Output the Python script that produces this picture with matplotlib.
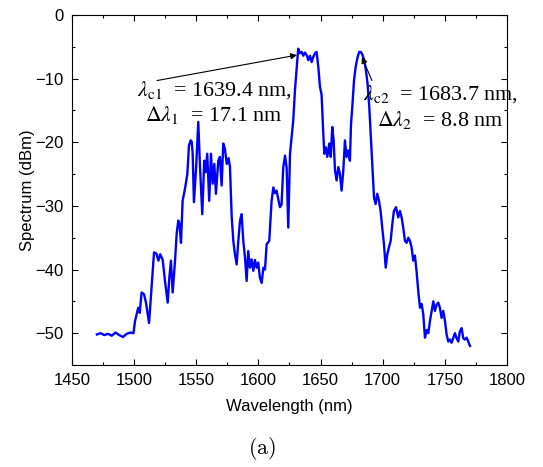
import matplotlib
matplotlib.use("Agg")
import matplotlib.pyplot as plt
from matplotlib.ticker import MultipleLocator

wavelength = [
    1470, 1473, 1476, 1479, 1482, 1485, 1488, 1491, 1494, 1497,
    1499.5, 1500.7, 1503.3, 1504.5, 1506, 1508, 1509.5, 1512, 1514, 1516,
    1518, 1519.5, 1521, 1523, 1524.8, 1527, 1528.3, 1529.6, 1531, 1532.9,
    1534.2, 1535.5, 1536.5, 1537.7, 1539, 1540.9, 1542.8, 1544.1, 1545.5, 1546.3,
    1547.1, 1548.1, 1549.8, 1551.6, 1553, 1554.8, 1556.4, 1557.5, 1558.8, 1560.4,
    1561.8, 1563.2, 1564.5, 1565.8, 1567.7, 1569, 1570.4, 1571.7, 1573, 1574.5,
    1576, 1577.1, 1578.5, 1579.8, 1581.1, 1582.5, 1583.8, 1585.2, 1586.5, 1587.8,
    1589.2, 1590.5, 1591.8, 1593.2, 1594.5, 1595.9, 1597.2, 1598.5, 1599.8, 1601.2,
    1602.6, 1604, 1605.3, 1606.6, 1608.7, 1610.6, 1612, 1613.3, 1614.6, 1616,
    1617.3, 1618.6, 1620, 1621.4, 1622.7, 1624, 1625.4, 1626.7, 1628, 1629.4,
    1630.8, 1632, 1633.4, 1634.8, 1636.1, 1637.4, 1638.8, 1640.1, 1641.5, 1642.8,
    1644.1, 1645.5, 1646.8, 1648.2, 1649.5, 1650.8, 1652.2, 1653, 1654.2, 1655.4,
    1657, 1658.2, 1659.4, 1660.5, 1661.6, 1662.9, 1664.3, 1665.6, 1666.9, 1668.3,
    1669.6, 1670.9, 1672.2, 1673.6, 1674.5, 1675.5, 1676.9, 1678.2, 1679.8, 1681.1,
    1682.4, 1683.8, 1685.1, 1686.5, 1687.8, 1689.2, 1690.3, 1691.6, 1693, 1694.3,
    1695.6, 1697, 1698.3, 1699.6, 1701, 1702.4, 1703.7, 1705, 1706.4, 1707.7,
    1709, 1710.7, 1712.5, 1713.9, 1715.2, 1716.5, 1717.9, 1719.2, 1720.6, 1721.9,
    1723.2, 1724.6, 1725.9, 1727.2, 1728.6, 1730, 1731.3, 1732.6, 1734, 1735.4,
    1736.7, 1738, 1739.4, 1740.7, 1742, 1743.4, 1744.7, 1746, 1747.4, 1748.7,
    1750.1, 1751.4, 1752.7, 1754, 1755.4, 1756.7, 1758.1, 1759.4, 1760.8, 1762.1,
    1763.5, 1764.8, 1766.1, 1767.5, 1768.8, 1770.2,
]

spectrum = [
    -50.2, -50.0, -50.3, -50.1, -50.4, -49.9, -50.3, -50.6, -50.1, -49.9,
    -50.0, -48.1, -46.0, -46.8, -43.6, -43.9, -45.2, -48.4, -42.8, -37.3,
    -37.5, -38.6, -37.6, -38.5, -41.8, -45.2, -41.3, -38.6, -43.6, -38.6,
    -34.4, -32.3, -32.8, -35.8, -29.2, -27.3, -25.0, -20.5, -19.7, -19.9,
    -21.8, -29.4, -24.2, -16.8, -23.9, -31.3, -22.9, -24.7, -21.8, -29.2,
    -21.8, -26.5, -23.4, -28.1, -22.9, -22.3, -26.8, -20.2, -21.0, -23.4,
    -22.5, -23.9, -31.8, -35.5, -37.6, -39.2, -35.5, -32.3, -31.3, -35.5,
    -38.1, -41.8, -37.1, -39.7, -38.4, -40.2, -38.5, -39.7, -38.9, -41.3,
    -42.1, -39.7, -40.0, -36.0, -35.5, -29.2, -27.1, -28.0, -27.6, -29.0,
    -30.2, -29.8, -23.9, -22.1, -24.0, -33.4, -21.8, -19.2, -16.6, -11.8,
    -8.2, -5.3, -6.0, -5.8, -6.4, -5.9, -6.3, -7.1, -6.4, -7.4,
    -6.6, -6.0, -5.8, -8.2, -11.3, -12.5, -18.7, -21.8, -20.8, -22.3,
    -20.2, -22.3, -17.6, -19.7, -24.4, -26.0, -23.9, -25.0, -27.6, -24.4,
    -19.7, -22.3, -21.3, -22.9, -17.1, -14.5, -10.3, -8.2, -6.6, -5.8,
    -5.8, -6.3, -7.1, -8.7, -10.8, -14.5, -18.7, -23.9, -28.7, -29.7,
    -28.1, -29.2, -30.8, -33.4, -36.0, -39.7, -37.6, -36.5, -35.5, -32.9,
    -30.8, -30.2, -31.8, -30.8, -31.8, -33.4, -35.5, -35.8, -35.0, -35.5,
    -36.5, -38.6, -37.8, -40.2, -43.4, -46.0, -45.4, -47.0, -50.7, -49.5,
    -50.0, -48.1, -46.5, -45.0, -46.5, -45.5, -45.2, -46.0, -47.6, -46.5,
    -48.1, -50.2, -51.3, -51.0, -51.5, -50.8, -50.0, -50.8, -51.3, -49.7,
    -49.2, -50.8, -51.0, -50.7, -51.3, -52.0,
]

x_ticks = [1450, 1500, 1550, 1600, 1650, 1700, 1750, 1800]
y_ticks = [0, -10, -20, -30, -40, -50]

peak1_label = [r"$\lambda_{\rm c1}$  = 1639.4 nm,", r"$\Delta\lambda_1$  = 17.1 nm"]
peak2_label = [r"$\lambda_{\rm c2}$  = 1683.7 nm,", r"$\Delta\lambda_2$  = 8.8 nm"]

sans = "Liberation Sans"
serif = "Liberation Serif"

fig = plt.figure(figsize=(5.43, 4.67), dpi=100)
ax = fig.add_axes([72 / 543, 1 - 365 / 467, (507 - 72) / 543, (365 - 15) / 467])

ax.plot(wavelength, spectrum, color="#0000FF", lw=1.7)

ax.set_xlim(1450, 1800)
ax.set_ylim(-55, 0)
ax.set_xticks(x_ticks)
ax.set_yticks(y_ticks)
ax.xaxis.set_minor_locator(MultipleLocator(25))
ax.yaxis.set_minor_locator(MultipleLocator(5))
ax.tick_params(which="both", direction="in", top=True, right=True, width=0.8)
ax.tick_params(which="major", length=4, labelsize=12, pad=6)
ax.tick_params(which="minor", length=2.5)
for lab in ax.get_xticklabels() + ax.get_yticklabels():
    lab.set_fontfamily(sans)
for sp in ax.spines.values():
    sp.set_linewidth(0.8)

ax.set_xlabel("Wavelength (nm)", fontsize=12, fontfamily=sans, labelpad=8)
ax.set_ylabel("Spectrum (dBm)", fontsize=12, fontfamily=sans, labelpad=0)

tkw = dict(fontsize=15.8, fontfamily=serif, math_fontfamily="stix", ha="left", va="baseline")
ax.text(1502.3, -12.6, peak1_label[0], **tkw)
ax.text(1508.7, -16.6, peak1_label[1], **tkw)
ax.text(1684.4, -13.3, peak2_label[0], **tkw)
ax.text(1695.1, -17.4, peak2_label[1], **tkw)

akw = dict(arrowstyle="-|>", color="k", lw=0.8, mutation_scale=9, shrinkA=0, shrinkB=0)
ax.annotate("", xy=(1631, -6.3), xytext=(1518.4, -10.3), arrowprops=akw)
ax.annotate("", xy=(1683.3, -6.6), xytext=(1691.3, -10.3), arrowprops=akw)

fig.text(262 / 543, 1 - 449 / 467, r"$\mathrm{(a)}$", fontsize=16, math_fontfamily="cm",
         ha="center", va="center")

fig.savefig("out.png", dpi=100)
